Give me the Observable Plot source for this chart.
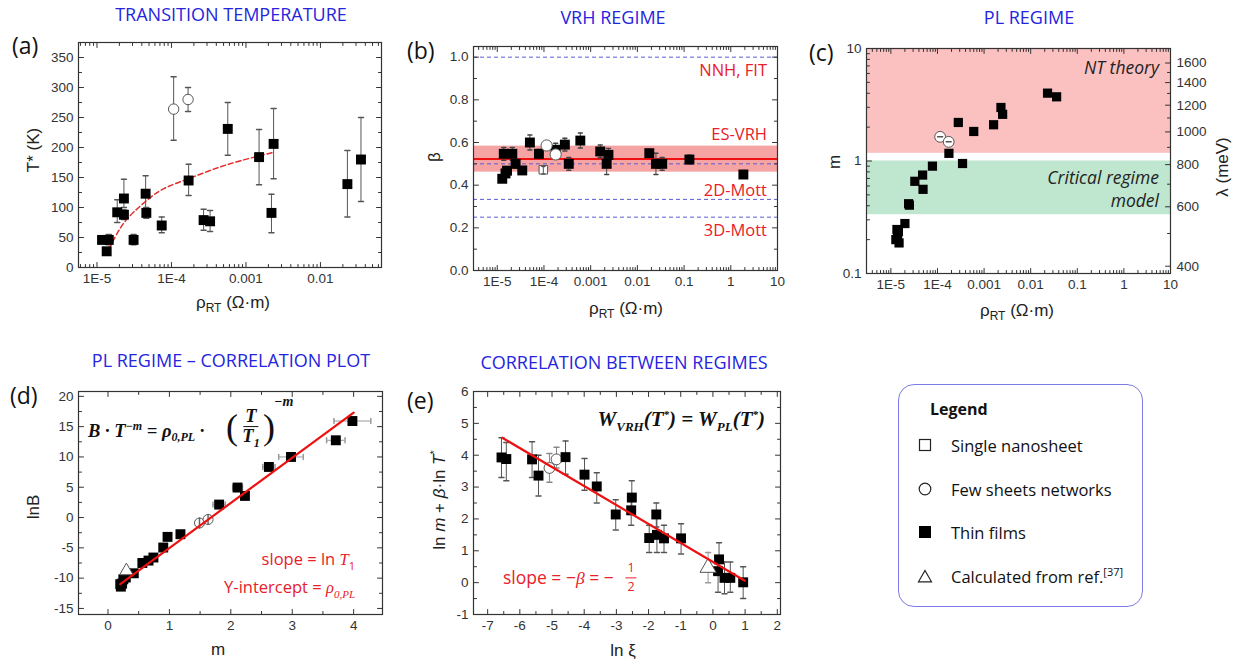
<!DOCTYPE html>
<html><head><meta charset="utf-8">
<script src="https://cdn.jsdelivr.net/npm/d3@7"></script>
<script src="https://cdn.jsdelivr.net/npm/@observablehq/plot@0.6"></script>
<style>
body{margin:0;background:#fff;}
#root{position:relative;width:1239px;height:663px;overflow:hidden;font-family:"Open Sans",sans-serif;}
.abs{position:absolute;white-space:nowrap;line-height:1;}
.frac{display:inline-flex;flex-direction:column;align-items:center;vertical-align:middle;line-height:1.05;}
.frac>span:first-child{border-bottom:1.3px solid currentColor;padding:0 2px;}
.frac.tall{line-height:1.45;}
sub,sup{line-height:0;}
</style></head>
<body><div id="root"></div>
<script>
// ================= DATA =================
// (a) Transition temperature T* vs rho_RT
const aThinRho = [1.17e-5, 1.35e-5, 1.44e-5, 1.87e-5, 2.3e-5, 2.3e-5, 3.1e-5, 4.5e-5, 4.6e-5, 7.4e-5, 1.7e-4, 2.7e-4, 3.3e-4, 5.7e-4, 1.5e-3, 2.2e-3, 2.35e-3, 0.023, 0.035];
const aThinT   = [46, 27, 46, 92, 88, 115, 46, 123, 91, 70, 145, 79, 77, 231, 184, 91, 206, 139, 180];
const aThinLo  = [40, 22, 38, 75, 80, 100, 38, 93, 82, 58, 120, 62, 60, 187, 138, 58, 148, 84, 110];
const aThinHi  = [52, 32, 55, 113, 96, 147, 55, 153, 100, 84, 172, 97, 95, 275, 230, 122, 265, 195, 250];
const aFewRho = [1.07e-4, 1.67e-4];
const aFewT   = [264, 280];
const aFewLo  = [212, 260];
const aFewHi  = [318, 300];
const aFitRho = [1.45e-5, 2.09e-5, 3.09e-5, 5.25e-5, 8.7e-5, 1.7e-4, 3.7e-4, 8.5e-4, 2.34e-3];
const aFitT   = [31, 67, 92, 117, 134, 148, 164, 178, 192];
const aXTicks = [1e-5, 1e-4, 1e-3, 1e-2];
const aXLabels = ["1E-5", "1E-4", "0.001", "0.01"];
const aYTicks = [0, 50, 100, 150, 200, 250, 300, 350];

// (b) VRH exponent beta vs rho_RT
const bThinRho = [1.28e-5, 1.5e-5, 1.62e-5, 1.38e-5, 2.1e-5, 2.47e-5, 3.43e-5, 5e-5, 7.8e-5, 1.78e-4, 2.8e-4, 3.4e-4, 6e-4, 1.6e-3, 2.2e-3, 2.4e-3, 0.018, 0.025, 0.034, 0.13, 1.86];
const bThinBeta = [0.43, 0.455, 0.468, 0.547, 0.547, 0.5, 0.469, 0.6, 0.547, 0.566, 0.59, 0.5, 0.609, 0.558, 0.5, 0.542, 0.55, 0.5, 0.5, 0.52, 0.45];
const bThinErr = [0.01, 0.01, 0.01, 0.03, 0.03, 0.02, 0.01, 0.035, 0.02, 0.03, 0.03, 0.03, 0.035, 0.03, 0.05, 0.03, 0.01, 0.05, 0.03, 0.02, 0.01];
const bFewRho = [1.14e-4, 1.78e-4];
const bFewBeta = [0.586, 0.544];
const bSingleRho = [9.7e-5];
const bSingleBeta = [0.472];
const bBandLo = 0.461, bBandHi = 0.583, bMean = 0.523;
const bTheory = [1.0, 0.5, 1/3, 0.25];
const bTheoryLabels = ["NNH, FIT", "ES-VRH", "2D-Mott", "3D-Mott"];
const bXTicks = [1e-5, 1e-4, 1e-3, 1e-2, 0.1, 1, 10];
const bXLabels = ["1E-5", "1E-4", "0.001", "0.01", "0.1", "1", "10"];
const bYTicks = [0, 0.2, 0.4, 0.6, 0.8, 1.0];

// (c) PL exponent m vs rho_RT
const cThinRho = [1.39e-5, 1.28e-5, 1.5e-5, 1.35e-5, 1.45e-5, 2e-5, 2.4e-5, 2.5e-5, 3.27e-5, 4.8e-5, 4.9e-5, 7.8e-5, 1.76e-4, 2.8e-4, 3.45e-4, 6e-4, 1.6e-3, 2.3e-3, 2.5e-3, 0.023, 0.036];
const cThinM = [0.222, 0.2, 0.187, 0.246, 0.235, 0.278, 0.417, 0.405, 0.66, 0.75, 0.56, 0.9, 1.17, 2.2, 0.95, 1.83, 2.1, 2.99, 2.6, 4.01, 3.72];
const cFewRho = [1.14e-4, 1.74e-4];
const cFewM = [1.64, 1.48];
const cNTBand = [1.17, 10];
const cCritBand = [0.333, 1.0];
const cYTicks = [0.1, 1, 10];
const cYLabels = ["0.1", "1", "10"];
const cLambdaTicks = [400, 600, 800, 1000, 1200, 1400, 1600];
const cLambdaMinor = [500, 700, 900, 1100, 1300, 1500];
const cLambdaAtM1 = 820; // lambda (meV) where m = 1; lambda ∝ m^(1/3)

// (d) lnB vs m
const dThinM   = [3.98, 3.71, 2.98, 2.62, 2.11, 2.23, 1.81, 1.18, 0.97, 0.9, 0.74, 0.66, 0.56, 0.42, 0.29, 0.23, 0.21, 0.25, 0.2];
const dThinLnB = [15.93, 12.75, 10.0, 8.35, 4.95, 3.57, 2.14, -2.75, -3.19, -4.95, -6.6, -7.1, -7.5, -9.2, -9.9, -10.9, -11.4, -10.2, -11.0];
const dThinMErr = [0.3, 0.15, 0.2, 0.1, 0.08, 0.05, 0.1, 0.05, 0.03, 0.03, 0.03, 0.03, 0.03, 0.02, 0.02, 0.02, 0.02, 0.02, 0.02];
const dFewM = [1.49, 1.63];
const dFewLnB = [-0.9, -0.32];
const dRefM = [0.3];
const dRefLnB = [-8.8];
const dFitM = [0.2, 4.0];
const dFitLnB = [-11.0, 17.3];
const dXTicks = [0, 1, 2, 3, 4];
const dYTicks = [-15, -10, -5, 0, 5, 10, 15, 20];

// (e) ln m + beta ln T* vs ln xi
const eThinXi = [-6.57, -6.42, -5.62, -5.42, -4.58, -3.99, -3.61, -3.02, -2.54, -2.52, -1.98, -1.76, -1.74, -1.52, -0.99, 0.19, 0.16, 0.36, 0.54, 0.94];
const eThinY  = [3.93, 3.88, 3.87, 3.36, 3.94, 3.39, 3.02, 2.14, 2.27, 2.67, 1.4, 2.14, 1.5, 1.39, 1.39, 0.73, 0.36, 0.15, 0.15, 0.01];
const eThinLo = [3.3, 3.2, 3.3, 2.72, 3.4, 2.9, 2.5, 1.65, 1.8, 2.2, 0.95, 1.75, 0.95, 0.95, 0.9, 0.25, -0.3, -0.35, -0.3, -0.5];
const eThinHi = [4.55, 4.4, 4.42, 4.0, 4.45, 3.9, 3.45, 2.6, 2.7, 3.2, 1.8, 2.5, 2.05, 1.8, 1.85, 1.25, 0.8, 0.65, 0.65, 0.5];
const eFewXi = [-5.08, -4.86];
const eFewY  = [3.6, 3.87];
const eFewLo = [3.15, 3.6];
const eFewHi = [4.05, 4.25];
const eRefXi = [-0.15];
const eRefY  = [0.47];
const eRefLo = [0.0];
const eRefHi = [0.95];
const eFitXi = [-6.55, 0.99];
const eFitY  = [4.55, 0.06];
const eXTicks = [-7, -6, -5, -4, -3, -2, -1, 0, 1, 2];
const eYTicks = [-1, 0, 1, 2, 3, 4, 5, 6];

// Legend
const legendTitle = "Legend";
const legendItems = ["Single nanosheet", "Few sheets networks", "Thin films", "Calculated from ref.<sup style='font-size:11px'>[37]</sup>"];

// ================= HELPERS =================
const root = document.getElementById("root");
const AX = "#333";
const RED = "#e8202a";
const TICKFONT = 13.5;
const lineShape = {draw(ctx, l) { ctx.moveTo(0, 0); ctx.lineTo(0, -l); }};
const zip = (xs, ys, extra = {}) => xs.map((x, i) => {
  const o = {x, y: ys[i]};
  for (const k in extra) o[k] = extra[k][i];
  return o;
});

function sideTicks(vals, side, len) {
  const rot = {bottom: 0, top: 180, left: 90, right: -90}[side];
  const ch = (side === "bottom" || side === "top") ? "x" : "y";
  return Plot.vector(vals, {[ch]: d => d, frameAnchor: side, length: len, rotate: rot, anchor: "start", shape: lineShape, stroke: AX, strokeWidth: 1});
}
function frameTicks(xMaj, xMin, yMaj, yMin, sidesY = ["left", "right"]) {
  const m = [];
  for (const s of ["bottom", "top"]) m.push(sideTicks(xMaj, s, 5), sideTicks(xMin, s, 3));
  for (const s of sidesY) m.push(sideTicks(yMaj, s, 5), sideTicks(yMin, s, 3));
  return m;
}
function logMinor([lo, hi]) {
  const out = [];
  for (let e = Math.floor(Math.log10(lo)); e <= Math.ceil(Math.log10(hi)); e++)
    for (let k = 2; k <= 9; k++) { const v = k * Math.pow(10, e); if (v >= lo && v <= hi) out.push(v); }
  return out;
}
function linMinor(majors, step, [lo, hi]) {
  const out = [];
  for (let v = majors[0] - step; v <= hi + 1e-9; v += step) {
    if (v < lo - 1e-9) continue;
    if (!majors.some(mj => Math.abs(mj - v) < 1e-9)) out.push(+v.toFixed(6));
  }
  return out;
}
function yErr(data, color = "#555", cap = 5) {
  return [
    Plot.ruleX(data, {x: "x", y1: "lo", y2: "hi", stroke: color, strokeWidth: 1}),
    Plot.vector(data, {x: "x", y: "lo", length: cap, rotate: 90, anchor: "middle", shape: lineShape, stroke: color}),
    Plot.vector(data, {x: "x", y: "hi", length: cap, rotate: 90, anchor: "middle", shape: lineShape, stroke: color})
  ];
}
function xErr(data, color = "#999", cap = 5) {
  return [
    Plot.ruleY(data, {y: "y", x1: d => d.x - d.e, x2: d => d.x + d.e, stroke: color, strokeWidth: 1}),
    Plot.vector(data, {x: d => d.x - d.e, y: "y", length: cap, anchor: "middle", shape: lineShape, stroke: color}),
    Plot.vector(data, {x: d => d.x + d.e, y: "y", length: cap, anchor: "middle", shape: lineShape, stroke: color})
  ];
}
const squares = (data, r = 5.6) => Plot.dot(data, {x: "x", y: "y", symbol: "square", r, fill: "#000", stroke: "none"});
const circles = (data, r = 5.2) => Plot.dot(data, {x: "x", y: "y", symbol: "circle", r, fill: "#fff", stroke: "#555", strokeWidth: 1});
const openSq = (data, r = 4.8) => Plot.dot(data, {x: "x", y: "y", symbol: "square", r, fill: "#fff", stroke: "#555", strokeWidth: 1});
const triangles = (data, r = 5.5) => Plot.dot(data, {x: "x", y: "y", symbol: "triangle", r, fill: "#fff", stroke: "#555", strokeWidth: 1});
function fmtFrom(ticks, labels) {
  return d => {
    if (!labels) return String(d);
    let best = 0;
    ticks.forEach((t, i) => { if (Math.abs(t - d) < Math.abs(ticks[best] - d)) best = i; });
    return labels[best];
  };
}
const labelAxisX = (ticks, labels) => Plot.axisX({ticks, tickFormat: fmtFrom(ticks, labels), tickSize: 0, tickPadding: 6, label: null, color: AX, fontSize: TICKFONT});
const labelAxisY = (ticks, labels, anchor = "left") => Plot.axisY({anchor, ticks, tickFormat: fmtFrom(ticks, labels), tickSize: 0, tickPadding: 5, label: null, color: AX, fontSize: TICKFONT});
const svgStyle = {background: "none", fontFamily: "'Liberation Sans', Arial, sans-serif", fontSize: TICKFONT + "px", overflow: "visible"};

function place(svg, left, top) {
  svg.style.position = "absolute"; svg.style.left = left + "px"; svg.style.top = top + "px";
  root.appendChild(svg);
}
function addText(html, x, y, opts = {}) {
  const d = document.createElement("div");
  d.className = "abs";
  d.innerHTML = html;
  const {anchor = "middle", rotate = 0, font = "16px 'Open Sans', sans-serif", color = "#222"} = opts;
  d.style.left = x + "px"; d.style.top = y + "px";
  d.style.font = font; d.style.color = color; d.style.lineHeight = "1";
  const tx = anchor === "start" ? "0" : anchor === "end" ? "-100%" : "-50%";
  d.style.transform = `translate(${tx},-50%)` + (rotate ? ` rotate(${rotate}deg)` : "");
  root.appendChild(d);
  return d;
}

// ================= PANEL (a) =================
{
  const xd = [5.65e-6, 0.066], yd = [0, 375];
  const thin = zip(aThinRho, aThinT, {lo: aThinLo, hi: aThinHi});
  const few = zip(aFewRho, aFewT, {lo: aFewLo, hi: aFewHi});
  const fit = zip(aFitRho, aFitT);
  const p = Plot.plot({
    width: 400, height: 290, marginLeft: 78, marginRight: 19, marginTop: 42, marginBottom: 23,
    style: svgStyle,
    x: {type: "log", domain: xd}, y: {domain: yd},
    marks: [
      ...yErr(thin, "#555"), ...yErr(few, "#555"),
      Plot.line(fit, {x: "x", y: "y", curve: "natural", stroke: "#e32b2b", strokeWidth: 1.5, strokeDasharray: "5,3"}),
      squares(thin), circles(few),
      Plot.frame({stroke: AX, strokeWidth: 1.2}),
      ...frameTicks(aXTicks, logMinor(xd), aYTicks, linMinor(aYTicks, 25, yd)),
      labelAxisX(aXTicks, aXLabels), labelAxisY(aYTicks)
    ]
  });
  place(p, 0, 0);
}

// ================= PANEL (b) =================
{
  const xd = [3.1e-6, 10], yd = [0, 1.05];
  const thin = zip(bThinRho, bThinBeta, {lo: bThinBeta.map((b, i) => b - bThinErr[i]), hi: bThinBeta.map((b, i) => b + bThinErr[i])});
  const few = zip(bFewRho, bFewBeta);
  const single = zip(bSingleRho, bSingleBeta, {lo: [bSingleBeta[0] - 0.02], hi: [bSingleBeta[0] + 0.015]});
  const p = Plot.plot({
    width: 400, height: 290, marginLeft: 73, marginRight: 23, marginTop: 46, marginBottom: 20,
    style: svgStyle,
    x: {type: "log", domain: xd}, y: {domain: yd},
    marks: [
      Plot.rect([0], {x1: xd[0], x2: xd[1], y1: bBandLo, y2: bBandHi, fill: "#f5a3a3"}),
      Plot.ruleY(bTheory, {stroke: "#5b5bd6", strokeWidth: 1, strokeDasharray: "4,3"}),
      Plot.ruleY([bMean], {stroke: "#ee1111", strokeWidth: 2}),
      ...yErr(thin, "#444", 4),
      squares(thin), circles(few, 5.6), openSq(single),
      ...yErr(single, "#555", 3),
      Plot.frame({stroke: AX, strokeWidth: 1.2}),
      ...frameTicks(bXTicks, logMinor(xd), bYTicks, linMinor(bYTicks, 0.1, yd)),
      labelAxisX(bXTicks, bXLabels), labelAxisY(bYTicks, bYTicks.map(v => v.toFixed(1)))
    ]
  });
  place(p, 400, 0);
}

// ================= PANEL (c) =================
{
  const xd = [3e-6, 10], yd = [0.1, 10];
  const lamToM = l => Math.pow(l / cLambdaAtM1, 3);
  const lamMaj = cLambdaTicks.map(lamToM), lamMin = cLambdaMinor.map(lamToM);
  const thin = zip(cThinRho, cThinM);
  const few = zip(cFewRho, cFewM);
  const lamAxis = zip(lamMaj, cLambdaTicks.map(String));
  const p = Plot.plot({
    width: 439, height: 290, marginLeft: 66, marginRight: 69, marginTop: 48, marginBottom: 17,
    style: svgStyle,
    x: {type: "log", domain: xd}, y: {type: "log", domain: yd},
    marks: [
      Plot.rect([0], {x1: xd[0], x2: xd[1], y1: cNTBand[0], y2: cNTBand[1], fill: "#fbc0c0"}),
      Plot.rect([0], {x1: xd[0], x2: xd[1], y1: cCritBand[0], y2: cCritBand[1], fill: "#bfe6cf"}),
      squares(thin, 5.2), circles(few, 5.4),
      Plot.vector(few, {x: "x", y: "y", length: 5, rotate: 90, anchor: "middle", shape: lineShape, stroke: "#555"}),
      Plot.frame({stroke: AX, strokeWidth: 1.2}),
      ...frameTicks(bXTicks, logMinor(xd), cYTicks, logMinor(yd), ["left"]),
      sideTicks(lamMaj, "right", 5), sideTicks(lamMin, "right", 3),
      labelAxisX(bXTicks, bXLabels), labelAxisY(cYTicks, cYLabels),
      // right-hand lambda axis labels
      Plot.text(lamAxis, {y: "x", text: "y", frameAnchor: "right", textAnchor: "start", dx: 6, fill: AX, fontSize: TICKFONT})
    ]
  });
  place(p, 800, 0);
}

// ================= PANEL (d) =================
{
  const xd = [-0.48, 4.47], yd = [-16, 20.8];
  const thin = zip(dThinM, dThinLnB, {e: dThinMErr});
  const few = zip(dFewM, dFewLnB);
  const ref = zip(dRefM, dRefLnB);
  const fit = zip(dFitM, dFitLnB);
  const p = Plot.plot({
    width: 400, height: 333, marginLeft: 78, marginRight: 18, marginTop: 61, marginBottom: 49,
    style: svgStyle,
    x: {domain: xd}, y: {domain: yd},
    marks: [
      ...xErr(thin.filter(d => d.e > 0.04), "#999"),
      squares(thin), circles(few, 5), triangles(ref, 5),
      Plot.vector(few, {x: "x", y: "y", length: 10, anchor: "middle", shape: lineShape, stroke: "#666"}),
      Plot.line(fit, {x: "x", y: "y", stroke: "#ee1111", strokeWidth: 2.2}),
      Plot.frame({stroke: AX, strokeWidth: 1.2}),
      ...frameTicks(dXTicks, linMinor(dXTicks, 0.5, xd), dYTicks, linMinor(dYTicks, 2.5, yd)),
      labelAxisX(dXTicks), labelAxisY(dYTicks)
    ]
  });
  place(p, 0, 330);
}

// ================= PANEL (e) =================
{
  const xd = [-7.44, 2.1], yd = [-1, 6];
  const thin = zip(eThinXi, eThinY, {lo: eThinLo, hi: eThinHi});
  const few = zip(eFewXi, eFewY, {lo: eFewLo, hi: eFewHi});
  const ref = zip(eRefXi, eRefY, {lo: eRefLo, hi: eRefHi});
  const fit = zip(eFitXi, eFitY);
  const p = Plot.plot({
    width: 400, height: 333, marginLeft: 73, marginRight: 20, marginTop: 61, marginBottom: 49,
    style: svgStyle,
    x: {domain: xd}, y: {domain: yd},
    marks: [
      ...yErr(thin, "#555"), ...yErr(few, "#888"), ...yErr(ref, "#999"),
      circles(few, 5.4), squares(thin), triangles(ref, 6),
      Plot.line(fit, {x: "x", y: "y", stroke: "#ee1111", strokeWidth: 2.2}),
      Plot.frame({stroke: AX, strokeWidth: 1.2}),
      ...frameTicks(eXTicks, linMinor(eXTicks, 0.5, xd), eYTicks, linMinor(eYTicks, 0.5, yd)),
      labelAxisX(eXTicks), labelAxisY(eYTicks)
    ]
  });
  place(p, 400, 330);
}

// ================= TEXT =================
const TITLE = "18px 'Open Sans', sans-serif";
const BLUE = "#2525e0";
addText("TRANSITION TEMPERATURE", 231, 14, {font: TITLE, color: BLUE});
addText("VRH REGIME", 613, 17, {font: TITLE, color: BLUE});
addText("PL REGIME", 1029, 17, {font: TITLE, color: BLUE});
addText("PL REGIME – CORRELATION PLOT", 231, 360, {font: TITLE, color: BLUE});
addText("CORRELATION BETWEEN REGIMES", 624, 362, {font: TITLE, color: BLUE});

const PL = "23px 'Open Sans', sans-serif";
addText("(a)", 12, 45, {font: PL, anchor: "start", color: "#111"});
addText("(b)", 407, 50, {font: PL, anchor: "start", color: "#111"});
addText("(c)", 809, 52, {font: PL, anchor: "start", color: "#111"});
addText("(d)", 10, 395, {font: PL, anchor: "start", color: "#111"});
addText("(e)", 407, 400, {font: PL, anchor: "start", color: "#111"});

const AXF = "17px 'Liberation Sans', Arial, sans-serif";
const rhoLabel = "ρ<sub style='font-size:12px'>RT</sub> (Ω·m)";
addText("T* (K)", 33, 150, {font: AXF, rotate: -90});
addText(rhoLabel, 233, 302, {font: AXF});
addText("β", 434, 157, {font: AXF, rotate: -90});
addText(rhoLabel, 626, 308, {font: AXF});
addText("m", 834, 162, {font: AXF, rotate: -90});
addText("λ (meV)", 1222, 167, {font: AXF, rotate: -90});
addText(rhoLabel, 1017, 310, {font: AXF});
addText("lnB", 33, 507, {font: AXF, rotate: -90});
addText("m", 218, 649, {font: AXF});
addText("ln <i>m</i> + <i>β</i>·ln <i>T</i><sup style='font-size:11px'>*</sup>", 439, 500, {font: AXF, rotate: -90});
addText("ln ξ", 623, 650, {font: AXF});

// (b) theory labels
const LAB = "16.5px 'Open Sans', sans-serif";
[70, 134, 190, 230].forEach((y, i) => addText(bTheoryLabels[i], 767, y, {font: LAB, color: RED, anchor: "end"}));

// (c) region labels
const ITL = "italic 17.5px 'Open Sans', sans-serif";
addText("NT theory", 1159, 68, {font: ITL, anchor: "end", color: "#222"});
addText("Critical regime", 1159, 178, {font: ITL, anchor: "end", color: "#222"});
addText("model", 1159, 201, {font: ITL, anchor: "end", color: "#222"});

// (d) formula
const MATH = "bold italic 18.5px 'Liberation Serif', serif";
addText("B · T<sup style='font-size:12px'>−m</sup> = ρ<sub style='font-size:12px'>0,PL</sub> ·", 88, 431, {font: MATH, anchor: "start", color: "#111"});
addText("(", 232, 427, {font: "normal 36px 'Liberation Serif', serif", color: "#111"});
addText("<span class='frac'><span>T</span><span>T<sub style='font-size:12px'>1</sub></span></span>", 251, 427, {font: MATH, color: "#111"});
addText(")", 269, 427, {font: "normal 36px 'Liberation Serif', serif", color: "#111"});
addText("−m", 274, 402, {font: "bold italic 14px 'Liberation Serif', serif", anchor: "start", color: "#111"});
addText("slope = ln <i style=\"font-family:'Liberation Serif'\">T</i><sub style='font-size:11px'>1</sub>", 355, 560, {font: LAB, color: RED, anchor: "end"});
addText("Y-intercept = <i style=\"font-family:'Liberation Serif'\">ρ</i><sub style=\"font-size:11px;font-style:italic;font-family:'Liberation Serif'\">0,PL</sub>", 355, 588, {font: LAB, color: RED, anchor: "end"});

// (e) formula
addText("W<sub style='font-size:13px'>VRH</sub>(T<sup style='font-size:11px'>*</sup>) = W<sub style='font-size:13px'>PL</sub>(T<sup style='font-size:11px'>*</sup>)", 765, 419, {font: "bold italic 21px 'Liberation Serif', serif", anchor: "end", color: "#111"});
addText("slope = −<i style=\"font-family:'Liberation Serif'\">β</i> = −", 503, 578, {font: "17.5px 'Open Sans', sans-serif", color: RED, anchor: "start"});
addText("<span class='frac tall'><span>1</span><span>2</span></span>", 631, 578, {font: "12.5px 'Open Sans', sans-serif", color: RED});

// Legend box
{
  const box = document.createElement("div");
  box.className = "abs";
  Object.assign(box.style, {left: "898px", top: "384px", width: "245px", height: "223px", border: "1.5px solid #7c7ce6", borderRadius: "16px", boxSizing: "border-box"});
  root.appendChild(box);
  addText(legendTitle, 930, 409, {font: "bold 16px 'Open Sans', sans-serif", anchor: "start", color: "#111"});
  const ys = [446, 490, 533, 577];
  const icons = [
    "<svg width='14' height='14'><rect x='1.5' y='1.5' width='11' height='11' fill='#fff' stroke='#222' stroke-width='1.2'/></svg>",
    "<svg width='14' height='14'><circle cx='7' cy='7' r='5.8' fill='#fff' stroke='#222' stroke-width='1.2'/></svg>",
    "<svg width='14' height='14'><rect x='1' y='1' width='12' height='12' fill='#000'/></svg>",
    "<svg width='16' height='14'><path d='M8,1.5 L14.5,12.8 L1.5,12.8 Z' fill='#fff' stroke='#222' stroke-width='1.2'/></svg>"
  ];
  ys.forEach((y, i) => {
    addText(icons[i], 925, y, {font: "12px sans-serif"});
    addText(legendItems[i], 951, y, {font: "16.5px 'Open Sans', sans-serif", anchor: "start", color: "#111"});
  });
}
</script>
</body></html>
